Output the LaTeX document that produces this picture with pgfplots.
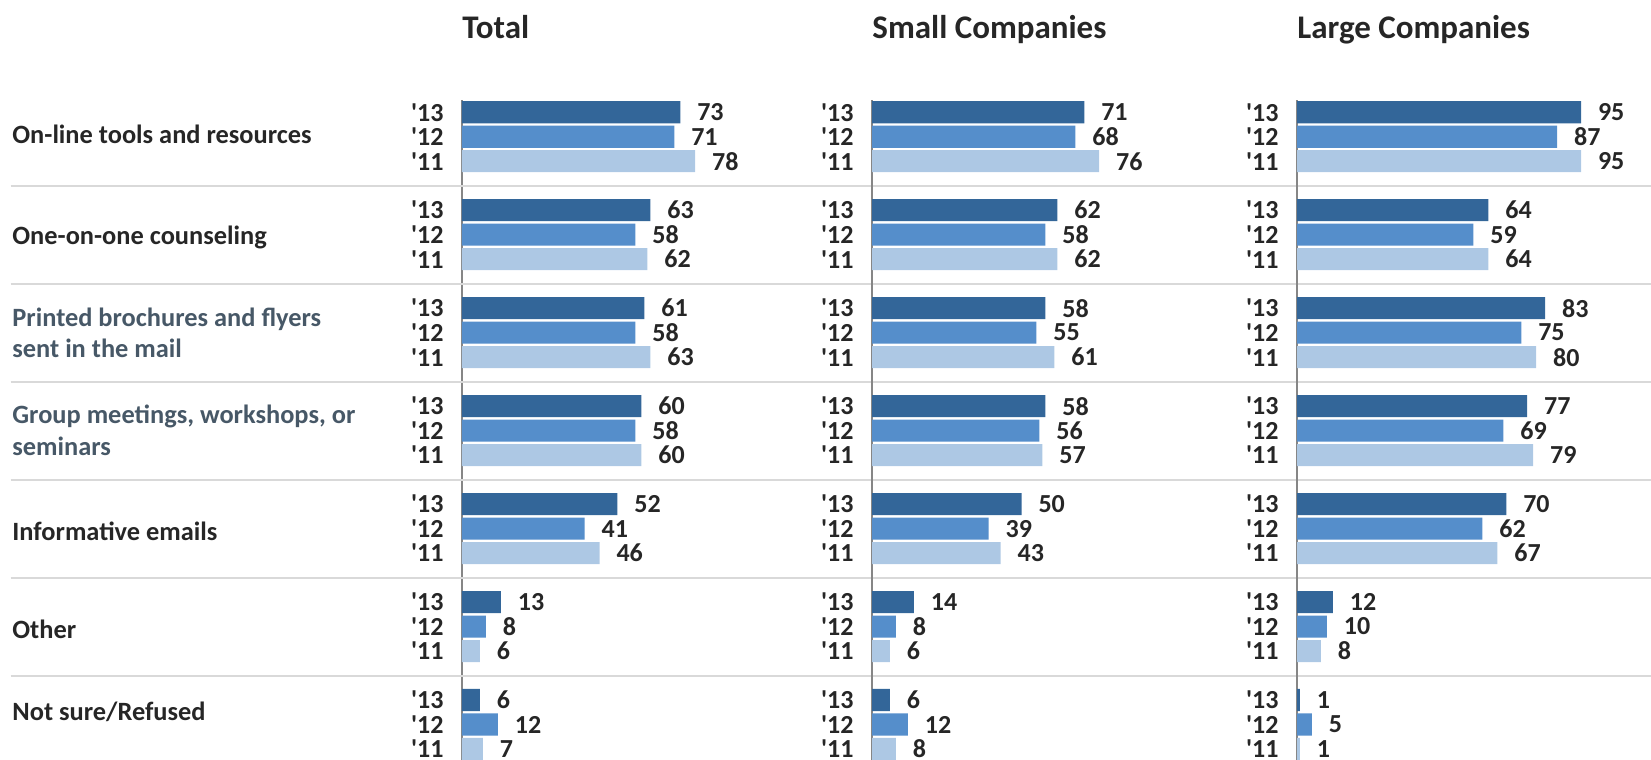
\documentclass[border=0pt]{standalone}
\usepackage{fontspec}
\setmainfont{Carlito}
\usepackage{pgfplots}
\pgfplotsset{compat=1.18}
\usepackage{pgfplotstable}
\definecolor{c13}{HTML}{336699}
\definecolor{c12}{HTML}{558ECB}
\definecolor{c11}{HTML}{ADC8E4}
\definecolor{txt}{HTML}{262626}
\definecolor{slate}{HTML}{475867}
\definecolor{axgray}{HTML}{868686}
\definecolor{sepgray}{HTML}{D9D9D9}
\newcommand\q{\textquotesingle}

\pgfplotstableread{
y13 y12 y11 v13 v12 v11
0 -1 -2 73 71 78
-4 -5 -6 63 58 62
-8 -9 -10 61 58 63
-12 -13 -14 60 58 60
-16 -17 -18 52 41 46
-20 -21 -22 13 8 6
-24 -25 -26 6 12 7
}\totaldata
\pgfplotstableread{
y13 y12 y11 v13 v12 v11
0 -1 -2 71 68 76
-4 -5 -6 62 58 62
-8 -9 -10 58 55 61
-12 -13 -14 58 56 57
-16 -17 -18 50 39 43
-20 -21 -22 14 8 6
-24 -25 -26 6 12 8
}\smalldata
\pgfplotstableread{
y13 y12 y11 v13 v12 v11
0 -1 -2 95 87 95
-4 -5 -6 64 59 64
-8 -9 -10 83 75 80
-12 -13 -14 77 69 79
-16 -17 -18 70 62 67
-20 -21 -22 12 10 8
-24 -25 -26 1 5 1
}\largedata

\pgfplotsset{panel/.style={
  xbar, bar shift=0pt, bar width=0.9,
  scale only axis, width=149.5pt, height=330pt,
  xmin=0, xmax=100, ymin=-26.45, ymax=0.5,
  axis x line=none, axis y line*=left,
  y axis line style={draw=axgray, line width=1pt},
  major tick length=0pt,
  ytick={0,-1,-2,-4,-5,-6,-8,-9,-10,-12,-13,-14,-16,-17,-18,-20,-21,-22,-24,-25,-26},
  yticklabels={\q13,\q12,\q11,\q13,\q12,\q11,\q13,\q12,\q11,\q13,\q12,\q11,\q13,\q12,\q11,\q13,\q12,\q11,\q13,\q12,\q11},
  yticklabel style={anchor=east, inner sep=0pt, xshift=-9pt, font=\bfseries\fontsize{13}{15}\selectfont, text=txt},
  clip=false,
  nodes near coords,
  every node near coord/.append style={anchor=west, inner sep=0pt, xshift=8.3pt, font=\bfseries\fontsize{13}{15}\selectfont, text=txt},
  /pgf/number format/assume math mode=true,
  anchor=north west,
  title style={at={(rel axis cs:0,1)}, anchor=base west, yshift=25pt, inner sep=0pt, font=\bfseries\fontsize{16.5}{19}\selectfont, text=txt},
}}

\begin{document}
\begin{tikzpicture}
\useasboundingbox (0,0) rectangle (825.5pt,-380pt);
\begin{axis}[panel, at={(231pt,-50pt)}, title={Total}]
  \foreach \yy in {-3,-7,-11,-15,-19,-23} {
    \edef\temp{\noexpand\draw[sepgray, line width=1pt] (axis cs:-151,\yy) -- (axis cs:400,\yy);}
    \temp
  }
  \addplot[fill=c13, draw=none] table[x=v13, y=y13] {\totaldata};
  \addplot[fill=c12, draw=none] table[x=v12, y=y12] {\totaldata};
  \addplot[fill=c11, draw=none] table[x=v11, y=y11] {\totaldata};
  \begin{scope}[every node/.style={anchor=west, align=left, inner sep=0pt, font=\bfseries\fontsize{13.2}{15.8}\selectfont}]
  \node[text=txt] at (axis cs:-150.5,-0.9) {On-line tools and resources};
  \node[text=txt] at (axis cs:-150.5,-5.1) {One-on-one counseling};
  \node[text=slate] at (axis cs:-150.5,-9) {Printed brochures and flyers\\sent in the mail};
  \node[text=slate] at (axis cs:-150.5,-13) {Group meetings, workshops, or\\seminars};
  \node[text=txt] at (axis cs:-150.5,-17.1) {Informative emails};
  \node[text=txt] at (axis cs:-150.5,-21.1) {Other};
  \node[text=txt] at (axis cs:-150.5,-24.5) {Not sure/Refused};
  \end{scope}
\end{axis}
\begin{axis}[panel, at={(436pt,-50pt)}, title={Small Companies}]
  \addplot[fill=c13, draw=none] table[x=v13, y=y13] {\smalldata};
  \addplot[fill=c12, draw=none] table[x=v12, y=y12] {\smalldata};
  \addplot[fill=c11, draw=none] table[x=v11, y=y11] {\smalldata};
\end{axis}
\begin{axis}[panel, at={(648.5pt,-50pt)}, title={Large Companies}]
  \addplot[fill=c13, draw=none] table[x=v13, y=y13] {\largedata};
  \addplot[fill=c12, draw=none] table[x=v12, y=y12] {\largedata};
  \addplot[fill=c11, draw=none] table[x=v11, y=y11] {\largedata};
\end{axis}
\end{tikzpicture}
\end{document}
